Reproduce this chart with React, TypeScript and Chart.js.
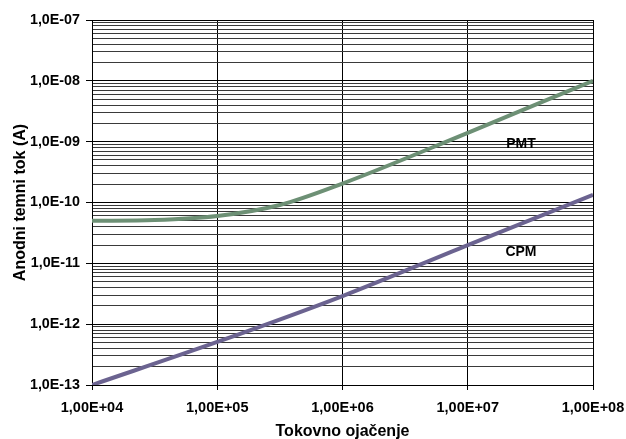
import React, { useEffect, useRef } from "react";
import { Chart, registerables } from "chart.js";

Chart.register(...registerables);

const xValues = [1e4, 3.16e4, 1e5, 3.16e5, 1e6, 1e7, 1e8];
const pmtValues = [5.0e-11, 5.15e-11, 6.0e-11, 9.1e-11, 2.05e-10, 1.4e-9, 1.0e-8];
const cpmX = [1e4, 1e5, 1e6, 1e7, 1e8];
const cpmValues = [1.0e-13, 5.1e-13, 2.9e-12, 2.0e-11, 1.33e-10];
const xTicks = [1e4, 1e5, 1e6, 1e7, 1e8];
const yDecades = [-13, -12, -11, -10, -9, -8, -7];
const seriesLabels = ["PMT", "CPM"];
const labelPos = [
  { x: 2.66e7, y: 9.1e-10 },
  { x: 2.66e7, y: 1.5e-11 },
];

const FONT = "'Liberation Sans', Arial, sans-serif";

function fmtX(v: number) {
  const e = Math.round(Math.log10(v));
  return "1,00E+" + String(e).padStart(2, "0");
}
function fmtY(v: number) {
  const e = Math.round(Math.log10(v));
  return "1,0E-" + String(-e).padStart(2, "0");
}
function isMajor(v: number) {
  const l = Math.log10(v);
  return Math.abs(l - Math.round(l)) < 1e-6;
}

export default function App() {
  const ref = useRef<HTMLCanvasElement | null>(null);
  useEffect(() => {
    if (!ref.current) return;
    const yTickVals: number[] = [];
    for (let i = 0; i < yDecades.length; i++) {
      const d = yDecades[i];
      if (d === yDecades[yDecades.length - 1]) {
        yTickVals.push(Math.pow(10, d));
      } else {
        for (let m = 1; m <= 9; m++) yTickVals.push(m * Math.pow(10, d));
      }
    }
    const textPlugin = {
      id: "seriesText",
      afterDatasetsDraw(chart: any) {
        const ctx = chart.ctx;
        const xs = chart.scales.x;
        const ys = chart.scales.y;
        ctx.save();
        ctx.font = "bold 14px " + FONT;
        ctx.fillStyle = "#000";
        ctx.textAlign = "center";
        ctx.textBaseline = "middle";
        seriesLabels.forEach((t, i) => {
          ctx.fillText(t, xs.getPixelForValue(labelPos[i].x), ys.getPixelForValue(labelPos[i].y));
        });
        ctx.restore();
      },
    };
    const chart = new Chart(ref.current, {
      type: "line",
      data: {
        datasets: [
          {
            label: seriesLabels[0],
            data: xValues.map((x, i) => ({ x, y: pmtValues[i] })),
            borderColor: "#6d9075",
            borderWidth: 4,
            pointRadius: 0,
            cubicInterpolationMode: "monotone",
            fill: false,
          },
          {
            label: seriesLabels[1],
            data: cpmX.map((x, i) => ({ x, y: cpmValues[i] })),
            borderColor: "#6b6390",
            borderWidth: 4,
            pointRadius: 0,
            cubicInterpolationMode: "monotone",
            fill: false,
          },
        ],
      },
      options: {
        animation: false,
        responsive: false,
        maintainAspectRatio: false,
        layout: { padding: { left: 0, right: 33, top: 20, bottom: 0 } },
        plugins: { legend: { display: false }, tooltip: { enabled: false } },
        scales: {
          x: {
            type: "logarithmic",
            min: 1e4,
            max: 1e8,
            afterBuildTicks: (s: any) => {
              s.ticks = xTicks.map((v) => ({ value: v }));
            },
            afterFit: (s: any) => {
              s.height = 54;
              s.paddingLeft = 0;
              s.paddingRight = 0;
            },
            ticks: {
              callback: (v: any) => fmtX(Number(v)),
              font: { family: FONT, size: 14.5, weight: "bold" },
              color: "#000",
              padding: 9,
              maxRotation: 0,
              autoSkip: false,
            },
            grid: { color: "#000", lineWidth: 1, tickLength: 5, tickColor: "#000" },
            border: { display: true, color: "#000", width: 1 },
            title: {
              display: true,
              text: "Tokovno ojačenje",
              font: { family: FONT, size: 16, weight: "bold" },
              color: "#000",
              padding: { top: 0, bottom: -2 },
            },
          },
          y: {
            type: "logarithmic",
            min: 1e-13,
            max: 1e-7,
            afterBuildTicks: (s: any) => {
              s.ticks = yTickVals.map((v) => ({ value: v }));
            },
            afterFit: (s: any) => {
              s.width = 92;
              s.paddingTop = 0;
              s.paddingBottom = 0;
            },
            ticks: {
              callback: (v: any) => (isMajor(Number(v)) ? fmtY(Number(v)) : ""),
              font: { family: FONT, size: 14.3, weight: "bold" },
              color: "#000",
              padding: 6,
              autoSkip: false,
            },
            grid: {
              color: (c: any) => (c.tick && isMajor(c.tick.value) ? "#000" : "#3a3a3a"),
              lineWidth: 1,
              tickLength: 6,
              tickColor: (c: any) => (c.tick && isMajor(c.tick.value) ? "#000" : "rgba(0,0,0,0)"),
            },
            border: { display: true, color: "#000", width: 1 },
            title: {
              display: true,
              text: "Anodni temni tok (A)",
              font: { family: FONT, size: 16, weight: "bold" },
              color: "#000",
              padding: { top: 11, bottom: 0 },
            },
          },
        },
      },
      plugins: [textPlugin],
    });
    return () => chart.destroy();
  }, []);
  return (
    <div style={{ position: "fixed", left: 0, top: 0, width: 626, height: 439, background: "#fff" }}>
      <canvas ref={ref} width={626} height={439} style={{ width: 626, height: 439 }} />
    </div>
  );
}
